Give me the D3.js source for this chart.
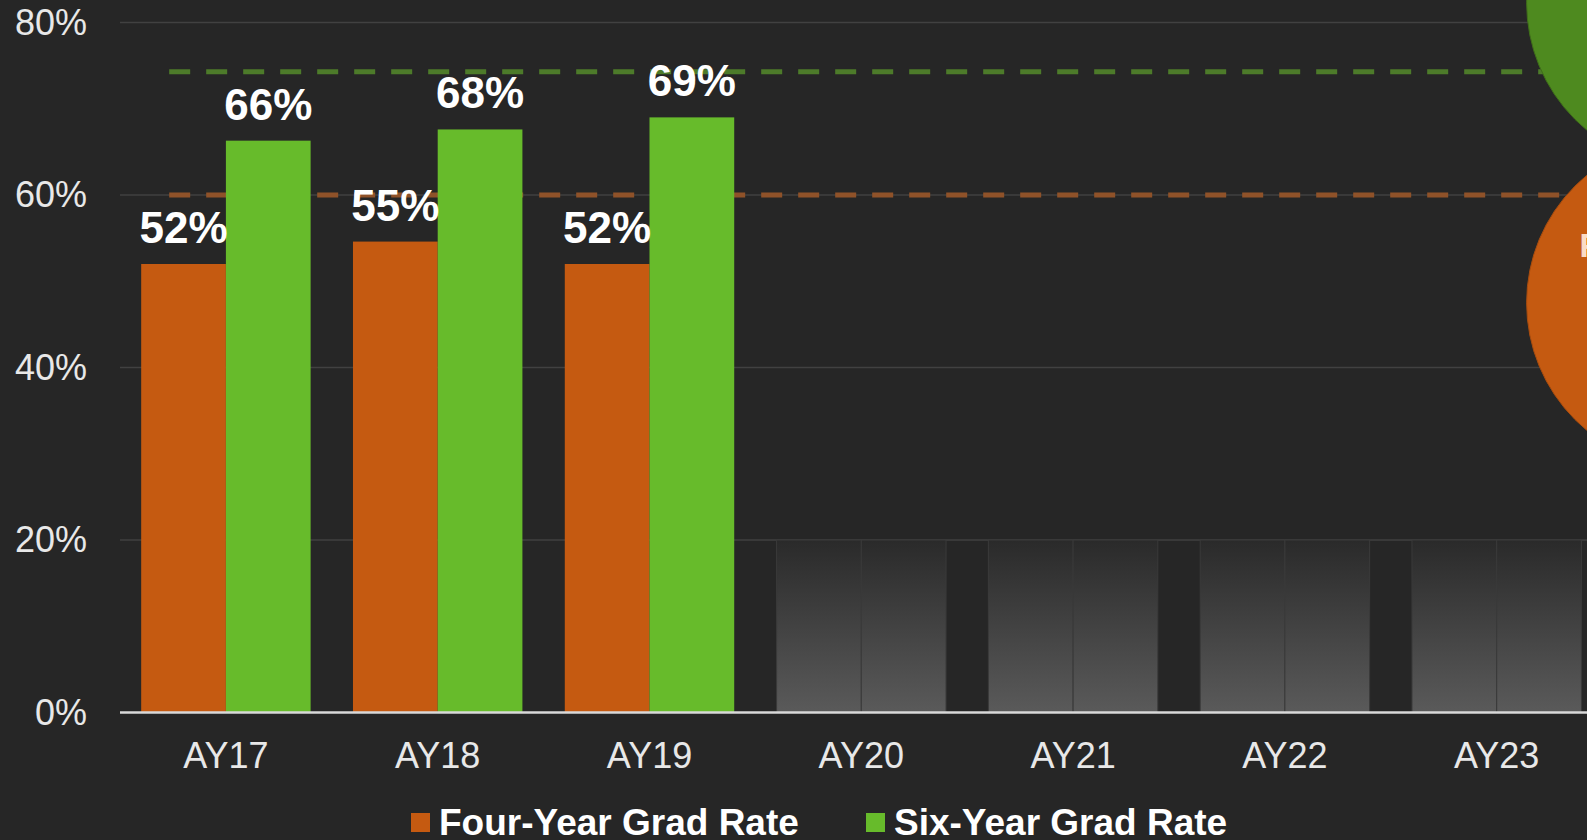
<!DOCTYPE html>
<html>
<head>
<meta charset="utf-8">
<script src="https://cdn.jsdelivr.net/npm/d3@7"></script>
<style>
  html, body { margin: 0; padding: 0; background: #262626; overflow: hidden; }
  svg { display: block; font-family: "Liberation Sans", Arial, sans-serif; }
</style>
</head>
<body>
<div id="chart"></div>
<script>
// data
const years = ["AY17", "AY18", "AY19", "AY20", "AY21", "AY22", "AY23"];
const fourYear = [52.0, 54.6, 52.0, null, null, null, null];
const sixYear = [66.3, 67.6, 69.0, null, null, null, null];
const placeholderValue = 20;          // empty future years
const series = ["Four-Year Grad Rate", "Six-Year Grad Rate"];
const seriesColors = ["#c55a11", "#67bb2b"];
const goals = [74.3, 60];             // dashed goal lines (six-year, four-year)
const goalColors = ["#4d7b2a", "#8f5229"];
const yTicks = [0, 20, 40, 60, 80];

const W = 1587, H = 840;
const margin = {top: 22.5, left: 120};
const plotH = 690;

const svg = d3.select("#chart").append("svg")
    .attr("width", W).attr("height", H);

svg.append("rect").attr("width", W).attr("height", H).attr("fill", "#262626");

const defs = svg.append("defs");
const grad = defs.append("linearGradient")
    .attr("id", "placeholderGrad")
    .attr("x1", 0).attr("y1", 0).attr("x2", 0).attr("y2", 1);
grad.append("stop").attr("offset", "0%").attr("stop-color", "#2a2a2a");
grad.append("stop").attr("offset", "100%").attr("stop-color", "#5a5a5a");

// scales
const x = d3.scaleBand()
    .domain(years)
    .range([margin.left, margin.left + 7 * 211.8])
    .paddingInner(0.2)
    .paddingOuter(0.1);

const sub = d3.scaleBand()
    .domain(series)
    .range([0, x.bandwidth()]);

const y = d3.scaleLinear()
    .domain([0, 80])
    .range([margin.top + plotH, margin.top]);

// grid lines
svg.append("g")
    .selectAll("line")
    .data(yTicks.filter(d => d > 0))
    .join("line")
    .attr("x1", margin.left).attr("x2", W)
    .attr("y1", d => y(d)).attr("y2", d => y(d))
    .attr("stroke", "#414141")
    .attr("stroke-width", 1.6);

// y axis labels
const yAxis = d3.axisLeft(y).tickValues(yTicks).tickFormat(d => d + "%").tickSize(0).tickPadding(0);
const yAxisG = svg.append("g")
    .attr("transform", "translate(87,0)")
    .call(yAxis);
yAxisG.select(".domain").remove();
yAxisG.selectAll("text")
    .attr("fill", "#e8e8e8")
    .attr("font-size", 36)
    .attr("font-family", "Liberation Sans, Arial, sans-serif");

// placeholder columns for years without data
const emptyYears = years.filter((d, i) => fourYear[i] === null);
const ph = svg.append("g")
    .selectAll("g")
    .data(emptyYears)
    .join("g")
    .attr("transform", d => "translate(" + x(d) + ",0)");
ph.selectAll("rect")
    .data(series)
    .join("rect")
    .attr("x", s => sub(s))
    .attr("width", sub.bandwidth())
    .attr("y", y(placeholderValue))
    .attr("height", y(0) - y(placeholderValue))
    .attr("fill", "url(#placeholderGrad)")
    .attr("stroke", "#3a3a3a")
    .attr("stroke-width", 1);

// goal lines
svg.append("g")
    .selectAll("line")
    .data(goals)
    .join("line")
    .attr("x1", x("AY17") + 28).attr("x2", W)
    .attr("y1", d => y(d)).attr("y2", d => y(d))
    .attr("stroke", (d, i) => goalColors[i])
    .attr("stroke-width", 5)
    .attr("stroke-dasharray", "21 16");

// bars
const rows = years.map((yr, i) => ({year: yr, values: [fourYear[i], sixYear[i]]}))
    .filter(r => r.values[0] !== null);

const groups = svg.append("g")
    .selectAll("g")
    .data(rows)
    .join("g")
    .attr("transform", d => "translate(" + x(d.year) + ",0)");

groups.selectAll("rect")
    .data(d => d.values.map((v, i) => ({key: series[i], v: v, i: i})))
    .join("rect")
    .attr("x", d => sub(d.key))
    .attr("width", sub.bandwidth())
    .attr("y", d => y(d.v))
    .attr("height", d => y(0) - y(d.v))
    .attr("fill", d => seriesColors[d.i]);

groups.selectAll("text")
    .data(d => d.values.map((v, i) => ({key: series[i], v: v, i: i})))
    .join("text")
    .attr("x", d => sub(d.key) + sub.bandwidth() / 2)
    .attr("y", d => y(d.v) - 21)
    .attr("text-anchor", "middle")
    .attr("fill", "#ffffff")
    .attr("font-weight", "bold")
    .attr("font-size", 44)
    .text(d => Math.round(d.v) + "%");

// baseline
svg.append("line")
    .attr("x1", margin.left).attr("x2", W)
    .attr("y1", y(0)).attr("y2", y(0))
    .attr("stroke", "#d9d9d9")
    .attr("stroke-width", 2.5);

// x axis labels
const xAxis = d3.axisBottom(x).tickSize(0).tickPadding(0);
const xAxisG = svg.append("g")
    .attr("transform", "translate(0," + (y(0) + 30) + ")")
    .call(xAxis);
xAxisG.select(".domain").remove();
xAxisG.selectAll("text")
    .attr("fill", "#e8e8e8")
    .attr("font-size", 36)
    .attr("font-family", "Liberation Sans, Arial, sans-serif");

// goal bubbles, mostly off the right edge
const bubbleX = x.range()[1] + 89;
const bubbles = [
    {cy: y(82.3), fill: "#4e8a1f", stroke: "#3f6f19"},
    {cy: y(47.5), fill: "#c55a11", stroke: "#a84c0e"}
];
svg.append("g")
    .selectAll("circle")
    .data(bubbles)
    .join("circle")
    .attr("cx", bubbleX)
    .attr("cy", d => d.cy)
    .attr("r", 165)
    .attr("fill", d => d.fill)
    .attr("stroke", d => d.stroke)
    .attr("stroke-width", 1);

svg.append("text")
    .attr("x", bubbleX - 112)
    .attr("y", y(47.5) - 46)
    .attr("fill", "#fbdcc6")
    .attr("font-weight", "bold")
    .attr("font-size", 33)
    .text("Four-Year Goal");

// legend
const legend = svg.append("g")
    .selectAll("g")
    .data(series)
    .join("g")
    .attr("transform", (d, i) => "translate(" + [411, 866][i] + ",0)");
legend.append("rect")
    .attr("y", 813)
    .attr("width", 19).attr("height", 19)
    .attr("fill", (d, i) => seriesColors[i]);
legend.append("text")
    .attr("x", 28)
    .attr("y", 835)
    .attr("fill", "#ffffff")
    .attr("font-weight", "bold")
    .attr("font-size", 37)
    .text(d => d);
</script>
</body>
</html>
